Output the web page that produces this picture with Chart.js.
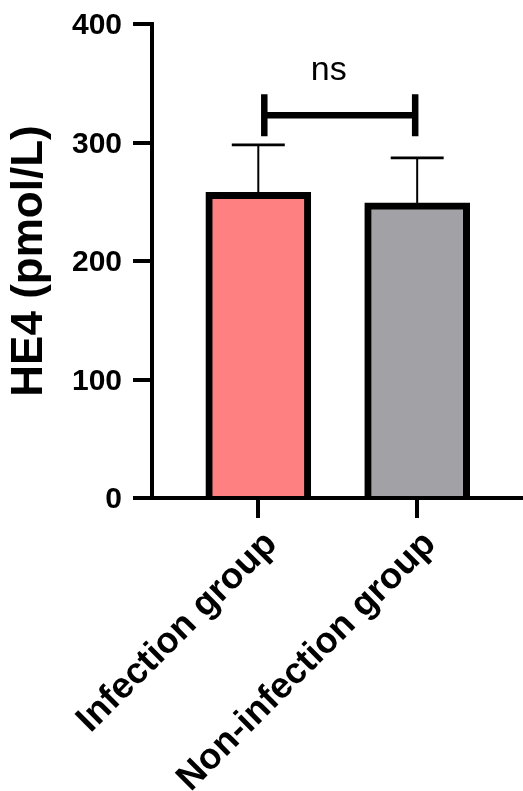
<!DOCTYPE html>
<html>
<head>
<meta charset="utf-8">
<script src="https://cdn.jsdelivr.net/npm/chart.js@4.4.0/dist/chart.umd.min.js"></script>
<style>
  html, body { margin: 0; padding: 0; background: #ffffff; }
  #c { display: block; }
</style>
</head>
<body>
<canvas id="c" width="523" height="791" style="width:523px;height:791px"></canvas>
<script>
// ---- data ----
const categories = ['Infection group', 'Non-infection group'];
const means = [258, 249];
const sds = [40, 38];
const yTicks = [0, 100, 200, 300, 400];
const fillColors = ['#FF8080', '#A2A1A6'];
const yTitle = 'HE4 (pmol/L)';
const sigLabel = 'ns';
const sigLevel = 323;

const FAMILY = '"Liberation Sans", Arial, Helvetica, sans-serif';
Chart.defaults.font.family = FAMILY;
Chart.defaults.color = '#000';

const overlay = {
  id: 'overlay',
  afterDatasetsDraw(chart) {
    const ctx = chart.ctx;
    const ys = chart.scales.y;
    const bars = chart.getDatasetMeta(0).data;
    ctx.save();
    ctx.strokeStyle = '#000';
    ctx.lineCap = 'butt';
    // error bars (upper only)
    bars.forEach((bar, i) => {
      const yErr = ys.getPixelForValue(means[i] + sds[i]);
      ctx.lineWidth = 2;
      ctx.beginPath();
      ctx.moveTo(bar.x, bar.y);
      ctx.lineTo(bar.x, yErr);
      ctx.stroke();
      ctx.lineWidth = 2.7;
      ctx.beginPath();
      ctx.moveTo(bar.x - 26.5, yErr);
      ctx.lineTo(bar.x + 26.5, yErr);
      ctx.stroke();
    });
    // significance bracket
    const x1 = bars[0].x + 6;
    const x2 = bars[1].x - 2;
    const yb = ys.getPixelForValue(sigLevel);
    ctx.lineWidth = 6.5;
    ctx.beginPath();
    ctx.moveTo(x1, yb); ctx.lineTo(x2, yb);
    ctx.moveTo(x1, yb - 21); ctx.lineTo(x1, yb + 21);
    ctx.moveTo(x2, yb - 21); ctx.lineTo(x2, yb + 21);
    ctx.stroke();
    ctx.fillStyle = '#000';
    ctx.font = '34px ' + FAMILY;
    ctx.textAlign = 'center';
    ctx.textBaseline = 'alphabetic';
    ctx.fillText(sigLabel, (x1 + x2) / 2 - 11, yb - 35.5);
    ctx.restore();
  }
};

new Chart(document.getElementById('c'), {
  type: 'bar',
  data: {
    datasets: [{
      data: means.map((m, i) => ({ x: i + 1, y: m })),
      backgroundColor: fillColors,
      borderColor: '#000',
      borderWidth: 7,
      borderSkipped: 'start',
      barThickness: 105
    }]
  },
  options: {
    responsive: false,
    devicePixelRatio: 1,
    animation: false,
    layout: { padding: { top: 24, left: 0, right: 0, bottom: 0 } },
    plugins: { legend: { display: false }, tooltip: { enabled: false } },
    scales: {
      x: {
        type: 'linear',
        offset: false,
        min: 0.331,
        max: 2.666,
        z: 1,
        afterBuildTicks: (s) => { s.ticks = categories.map((c, i) => ({ value: i + 1 })); },
        afterFit: (s) => { s.height = 293; s.paddingLeft = 0; s.paddingRight = 0; },
        ticks: {
          autoSkip: false,
          minRotation: 45,
          maxRotation: 45,
          labelOffset: 13,
          padding: 5,
          color: '#000',
          font: { size: 36.5, weight: 'bold', family: FAMILY },
          callback: (v, i) => categories[i]
        },
        grid: { display: true, offset: false, drawOnChartArea: false, drawTicks: true, tickLength: 20, lineWidth: 4, tickWidth: 4, tickColor: '#000', color: '#000' },
        border: { display: true, width: 4, color: '#000' }
      },
      y: {
        min: 0,
        max: 400,
        afterBuildTicks: (s) => { s.ticks = yTicks.map(v => ({ value: v })); },
        afterFit: (s) => { s.width = 152; s.paddingTop = 0; s.paddingBottom = 0; },
        ticks: {
          padding: 11,
          labelOffset: 2,
          color: '#000',
          font: { size: 30, weight: 'bold', family: FAMILY }
        },
        grid: { display: true, drawOnChartArea: false, drawTicks: true, tickLength: 19, lineWidth: 4, tickWidth: 4, tickColor: '#000', color: '#000' },
        border: { display: true, width: 4, color: '#000' },
        title: {
          display: true,
          text: yTitle,
          color: '#000',
          padding: { top: 3, bottom: 0 },
          font: { size: 44, weight: 'bold', family: FAMILY }
        }
      }
    }
  },
  plugins: [overlay]
});
</script>
</body>
</html>
